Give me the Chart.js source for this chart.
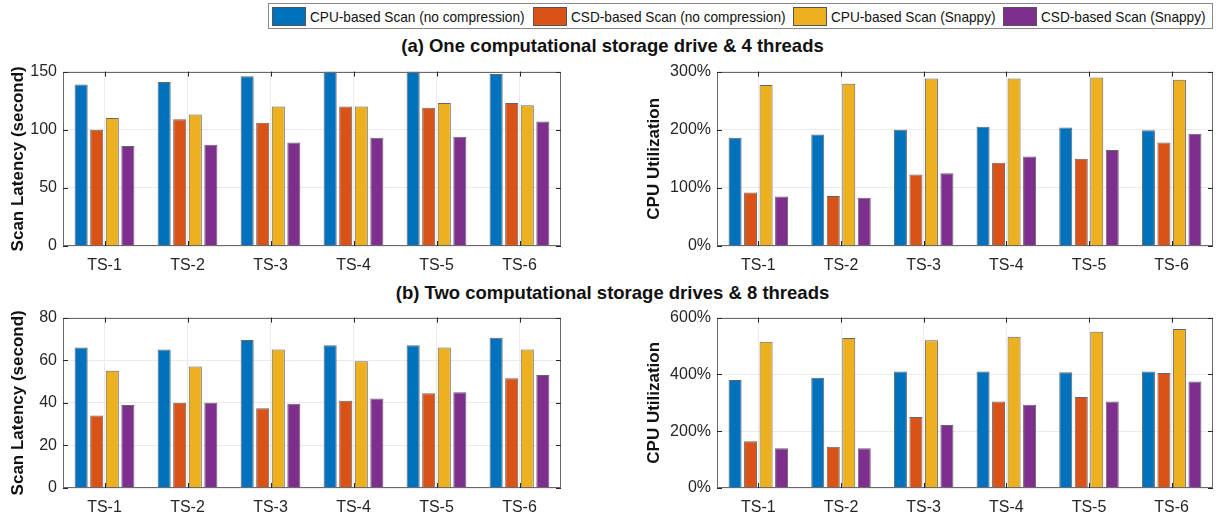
<!DOCTYPE html>
<html>
<head>
<meta charset="utf-8">
<script src="https://cdn.jsdelivr.net/npm/chart.js@4"></script>
<style>
  html, body { margin:0; padding:0; background:#fff; }
  body { width:1225px; height:516px; position:relative; overflow:hidden; font-family:"Liberation Sans", Arial, sans-serif; }
  .abs { position:absolute; }
  #legend { left:268px; top:3px; width:945px; height:26px; border:1px solid #8a8a8a; box-sizing:border-box; background:#fff;
            display:flex; align-items:center; padding-left:3px; overflow:hidden; }
  .sw { flex:none; width:34px; height:19px; box-sizing:border-box; border:1px solid #555; margin-right:4px; }
  .lt { flex:none; font-family:"Liberation Sans", Arial, sans-serif; font-size:15px; line-height:19px; color:#111; white-space:nowrap; margin-right:8px; overflow:visible; }
  .lt span { display:inline-block; transform-origin:0 50%; }
  .ttl { position:absolute; left:0; width:1225px; text-align:center; font-weight:bold; font-size:18.5px; color:#111; font-family:"Liberation Sans", Arial, sans-serif; }
</style>
</head>
<body>
<div id="legend" class="abs"></div>
<div id="titleA" class="ttl" style="top:35px;"></div>
<div id="titleB" class="ttl" style="top:282px;"></div>
<script>
// ---------- data ----------
const categories = ['TS-1', 'TS-2', 'TS-3', 'TS-4', 'TS-5', 'TS-6'];
const seriesNames = ['CPU-based Scan (no compression)', 'CSD-based Scan (no compression)', 'CPU-based Scan (Snappy)', 'CSD-based Scan (Snappy)'];
const seriesColors = ['#0072BD', '#D95319', '#EDB120', '#7E2F8E'];

// (a) one CSD & 4 threads
const latA_cpuNone   = [139, 141, 146, 150, 150, 148];
const latA_csdNone   = [100, 109, 106, 120, 119, 123];
const latA_cpuSnappy = [110, 113, 120, 120, 123, 121];
const latA_csdSnappy = [86, 87, 89, 93, 94, 107];
const utilA_cpuNone   = [186, 192, 200, 205, 204, 199];
const utilA_csdNone   = [92, 86, 123, 143, 150, 178];
const utilA_cpuSnappy = [277, 279, 288, 288, 290, 286];
const utilA_csdSnappy = [85, 83, 125, 154, 165, 193];

// (b) two CSDs & 8 threads
const latB_cpuNone   = [66, 65, 69.5, 67, 67, 70.5];
const latB_csdNone   = [34, 40, 37.5, 41, 44.5, 51.5];
const latB_cpuSnappy = [55, 57, 65, 59.5, 66, 65];
const latB_csdSnappy = [39, 40, 39.5, 42, 45, 53];
const utilB_cpuNone   = [380, 388, 410, 410, 408, 410];
const utilB_csdNone   = [165, 145, 250, 305, 320, 405];
const utilB_cpuSnappy = [515, 528, 520, 533, 550, 560];
const utilB_csdSnappy = [140, 140, 222, 293, 305, 375];

// tick labels
const latATicks  = [0, 50, 100, 150];
const utilATicks = [0, 100, 200, 300];
const latBTicks  = [0, 20, 40, 60, 80];
const utilBTicks = [0, 200, 400, 600];

const titleA = '(a) One computational storage drive & 4 threads';
const titleB = '(b) Two computational storage drives & 8 threads';
const yTitleLatency = 'Scan Latency (second)';
const yTitleUtil = 'CPU Utilization';

document.getElementById('titleA').textContent = titleA;
document.getElementById('titleB').textContent = titleB;

// ---------- legend (condensed text fitted into the box) ----------
const legend = document.getElementById('legend');
const mctx = document.createElement('canvas').getContext('2d');
mctx.font = '15px "Liberation Sans", Arial, sans-serif';
const natural = seriesNames.map(n => mctx.measureText(n).width);
const boxInner = 945 - 2 - 3 - 6;
const overhead = seriesNames.length * (34 + 4 + 8) - 8;
const squeeze = Math.min(1, (boxInner - overhead) / natural.reduce((a, b) => a + b, 0));
seriesNames.forEach((n, i) => {
  const sw = document.createElement('div');
  sw.className = 'sw'; sw.style.background = seriesColors[i];
  legend.appendChild(sw);
  const t = document.createElement('div');
  t.className = 'lt';
  t.style.width = (natural[i] * squeeze) + 'px';
  if (i === seriesNames.length - 1) t.style.marginRight = '0px';
  const s = document.createElement('span');
  s.textContent = n;
  s.style.transform = 'scaleX(' + squeeze + ')';
  t.appendChild(s);
  legend.appendChild(t);
});

// ---------- frame plugin (MATLAB-style box + inward ticks) ----------
const framePlugin = {
  id: 'frame',
  afterDraw(chart) {
    const { ctx, chartArea: a, scales } = chart;
    ctx.save();
    ctx.strokeStyle = '#6a6a6a';
    ctx.lineWidth = 1;
    ctx.strokeRect(Math.round(a.left) + 0.5, Math.round(a.top) + 0.5, Math.round(a.right - a.left) - 1, Math.round(a.bottom - a.top) - 1);
    ctx.strokeStyle = '#262626';
    ctx.beginPath();
    const tl = 5;
    scales.x.ticks.forEach((t, i) => {
      const x = Math.round(scales.x.getPixelForTick(i)) + 0.5;
      ctx.moveTo(x, a.top); ctx.lineTo(x, a.top + tl);
      ctx.moveTo(x, a.bottom); ctx.lineTo(x, a.bottom - tl);
    });
    scales.y.ticks.forEach((t, i) => {
      const y = Math.round(scales.y.getPixelForValue(t.value)) + 0.5;
      ctx.moveTo(a.left, y); ctx.lineTo(a.left + tl, y);
      ctx.moveTo(a.right, y); ctx.lineTo(a.right - tl, y);
    });
    ctx.stroke();
    ctx.restore();
  }
};

function makeChart(box, area, yTitle, series, yTicks, pct) {
  const w = box.x1 - box.x0, h = box.y1 - box.y0;
  const div = document.createElement('div');
  div.className = 'abs';
  div.style.left = box.x0 + 'px'; div.style.top = box.y0 + 'px';
  div.style.width = w + 'px'; div.style.height = h + 'px';
  const cv = document.createElement('canvas');
  cv.width = w; cv.height = h;
  cv.style.width = w + 'px'; cv.style.height = h + 'px';
  div.appendChild(cv);
  document.body.appendChild(div);
  new Chart(cv, {
    type: 'bar',
    data: {
      labels: categories,
      datasets: series.map((d, i) => ({
        label: seriesNames[i],
        data: d,
        backgroundColor: seriesColors[i],
        borderColor: 'rgba(20,20,20,0.65)',
        borderWidth: 1,
        categoryPercentage: 0.75,
        barPercentage: 0.84
      }))
    },
    options: {
      responsive: false,
      animation: false,
      devicePixelRatio: 1,
      layout: { padding: { left: 0, top: area.top - box.y0, right: box.x1 - area.right, bottom: 0 } },
      plugins: { legend: { display: false }, tooltip: { enabled: false }, title: { display: false } },
      scales: {
        x: {
          grid: { offset: false, color: '#ebebeb', drawTicks: false },
          border: { display: false },
          ticks: { padding: 10, color: '#262626', font: { family: 'Liberation Sans', size: 16 } },
          afterFit: s => { s.height = box.y1 - area.bottom; }
        },
        y: {
          min: yTicks[0], max: yTicks[yTicks.length - 1],
          afterBuildTicks: s => { s.ticks = yTicks.map(v => ({ value: v })); },
          grid: { color: '#ebebeb', drawTicks: false },
          border: { display: false },
          ticks: { padding: 6, color: '#262626', font: { family: 'Liberation Sans', size: 16 },
                   callback: v => pct ? v + '%' : String(v) },
          title: { display: true, text: yTitle, color: '#111', padding: 0,
                   font: { family: 'Liberation Sans', size: 17, weight: 'bold' } },
          afterFit: s => { s.width = area.left - box.x0; }
        }
      }
    },
    plugins: [framePlugin]
  });
}

makeChart({ x0: 8, x1: 580, y0: 56, y1: 280 }, { left: 63, right: 561, top: 66, bottom: 246 },
  yTitleLatency, [latA_cpuNone, latA_csdNone, latA_cpuSnappy, latA_csdSnappy], latATicks, false);
makeChart({ x0: 644, x1: 1225, y0: 56, y1: 280 }, { left: 717, right: 1213, top: 66, bottom: 246 },
  yTitleUtil, [utilA_cpuNone, utilA_csdNone, utilA_cpuSnappy, utilA_csdSnappy], utilATicks, true);
makeChart({ x0: 8, x1: 580, y0: 302, y1: 516 }, { left: 63, right: 561, top: 313, bottom: 488 },
  yTitleLatency, [latB_cpuNone, latB_csdNone, latB_cpuSnappy, latB_csdSnappy], latBTicks, false);
makeChart({ x0: 644, x1: 1225, y0: 302, y1: 516 }, { left: 717, right: 1213, top: 313, bottom: 488 },
  yTitleUtil, [utilB_cpuNone, utilB_csdNone, utilB_cpuSnappy, utilB_csdSnappy], utilBTicks, true);
</script>
</body>
</html>
